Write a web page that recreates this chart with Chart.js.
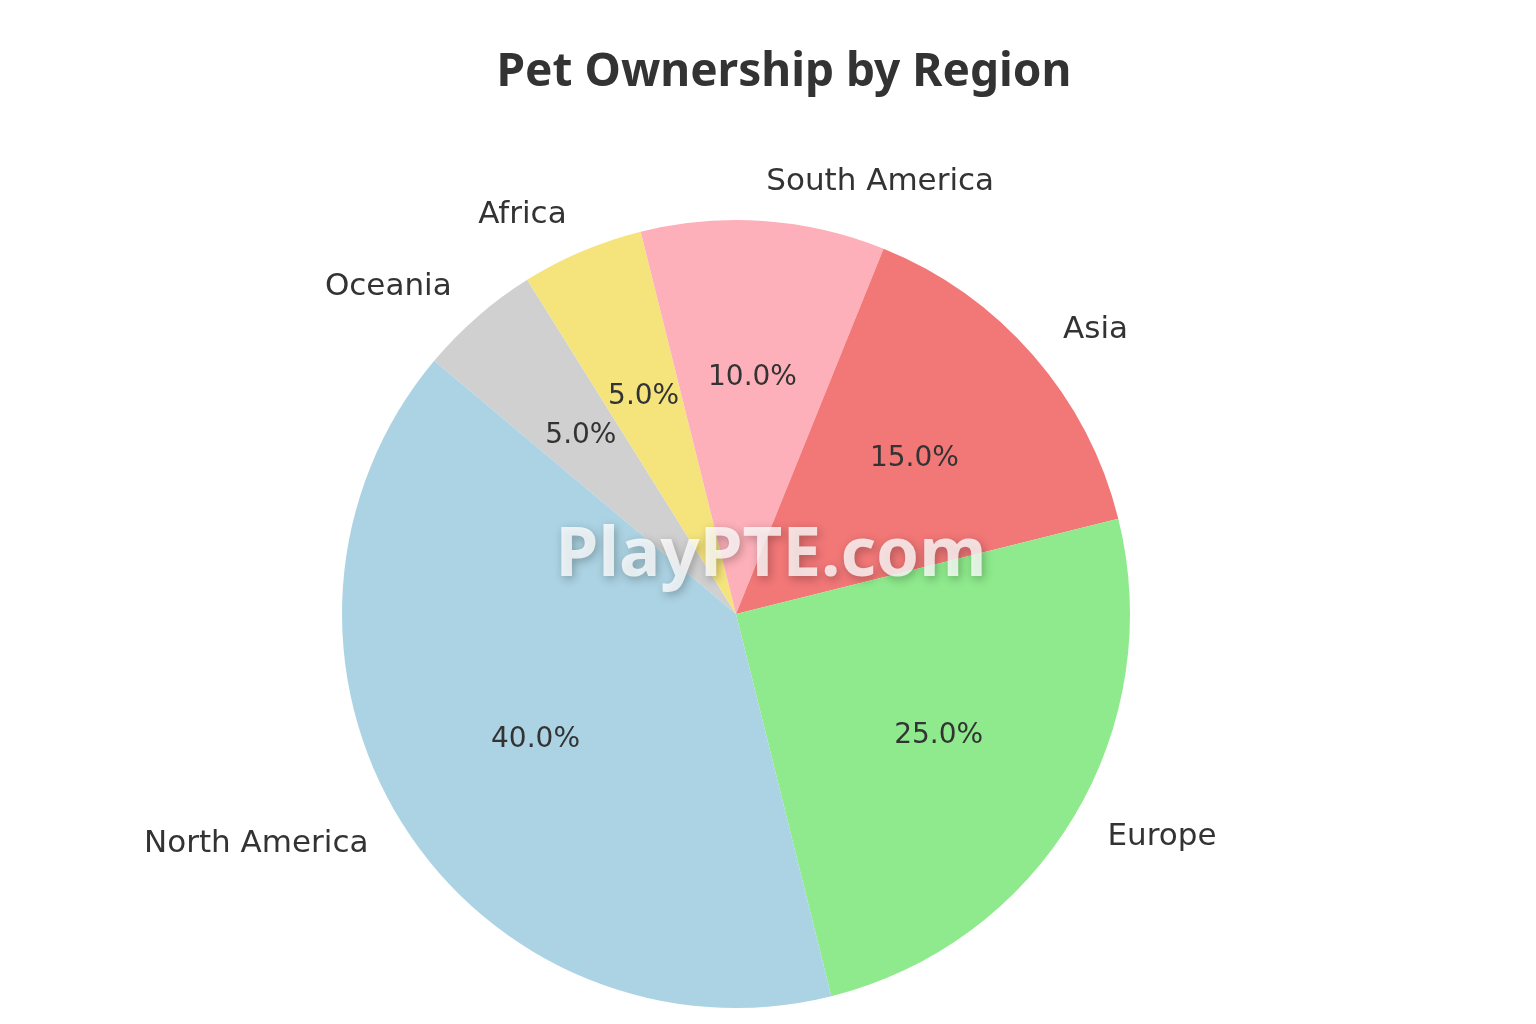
<!DOCTYPE html>
<html>
<head>
<meta charset="utf-8">
<title>Pet Ownership by Region</title>
<script src="https://cdn.jsdelivr.net/npm/chart.js@4/dist/chart.umd.min.js"></script>
<style>
    html, body { margin: 0; padding: 0; background: #ffffff; }
    #wrap { width: 1536px; height: 1024px; position: relative; }
</style>
</head>
<body>
<div id="wrap"><canvas id="myChart" width="1536" height="1024"></canvas></div>
<script>
// matplotlib order (counter-clockwise from 140 deg)
const regions = ['North America', 'Europe', 'Asia', 'South America', 'Africa', 'Oceania'];
const shares = [40, 25, 15, 10, 5, 5];
const sliceColors = ['#acd3e3', '#8eea8c', '#f27777', '#fdb0b9', '#f5e47c', '#d0d0d0'];

// Chart.js draws clockwise, so feed the slices reversed
const labels = regions.slice().reverse();
const values = shares.slice().reverse();
const colors = sliceColors.slice().reverse();

const total = values.reduce((a, b) => a + b, 0);

const textPlugin = {
    id: 'pieText',
    afterDatasetsDraw(chart) {
        const ctx = chart.ctx;
        const meta = chart.getDatasetMeta(0);
        ctx.save();
        ctx.fillStyle = '#333333';
        ctx.textBaseline = 'middle';
        meta.data.forEach((arc, i) => {
            const p = arc.getProps(['x', 'y', 'startAngle', 'endAngle', 'outerRadius'], true);
            const mid = (p.startAngle + p.endAngle) / 2;
            const cx = Math.cos(mid), cy = Math.sin(mid);

            // category label outside
            ctx.font = '31px "DejaVu Sans"';
            ctx.textAlign = cx > 0 ? 'left' : 'right';
            ctx.fillText(labels[i], p.x + cx * p.outerRadius * 1.1, p.y + cy * p.outerRadius * 1.1);

            // percentage inside
            ctx.font = '28px "DejaVu Sans"';
            ctx.textAlign = 'center';
            const pct = (values[i] / total * 100).toFixed(1) + '%';
            ctx.fillText(pct, p.x + cx * p.outerRadius * 0.6, p.y + cy * p.outerRadius * 0.6);
        });

        // title
        ctx.font = 'bold 46px "Noto Sans"';
        ctx.fillStyle = '#333333';
        ctx.textAlign = 'center';
        ctx.fillText('Pet Ownership by Region', 784, 73);

        // watermark
        ctx.font = 'bold 69px "Noto Sans"';
        ctx.shadowColor = 'rgba(0,0,0,0.35)';
        ctx.shadowBlur = 10;
        ctx.shadowOffsetX = 2;
        ctx.shadowOffsetY = 3;
        ctx.fillStyle = 'rgba(255,255,255,0.78)';
        ctx.fillText('PlayPTE.com', 771, 556);
        ctx.restore();
    }
};

const data = {
    labels: labels,
    datasets: [{
        data: values,
        backgroundColor: colors,
        borderWidth: 0,
    }]
};

const config = {
    type: 'pie',
    data: data,
    options: {
        responsive: false,
        animation: false,
        rotation: -50,
        layout: {
            padding: { left: 342, right: 406, top: 220, bottom: 16 }
        },
        plugins: {
            legend: { display: false },
            tooltip: { enabled: false },
            title: { display: false }
        }
    },
    plugins: [textPlugin]
};

const myChart = new Chart(
    document.getElementById('myChart'),
    config
);
</script>
</body>
</html>
